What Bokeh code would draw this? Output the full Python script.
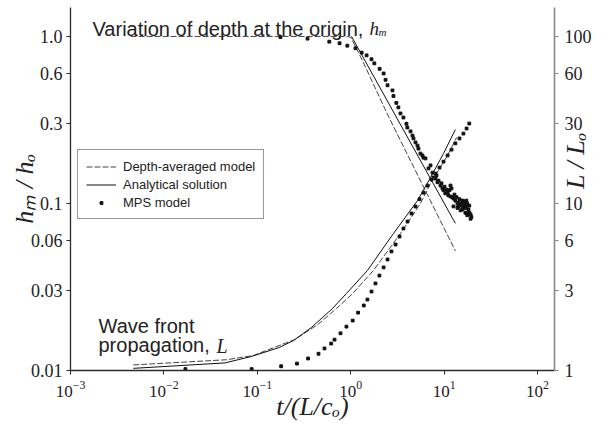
import math
from bokeh.plotting import figure
from bokeh.models import (LogAxis, Range1d, LogScale, FixedTicker, Label,
                          Legend, LegendItem, CustomJSTickFormatter)
from bokeh.embed import file_html
from bokeh.resources import INLINE

# ---------------- data ----------------
# x: t/(L/c_o)
# depth at origin h_m/h_o (left axis)
t_da_h = [0.0044, 0.9, 1.0, 1.33, 2.55, 13.2]
h_da = [1.0, 1.0, 0.99, 0.72, 0.33, 0.052]

t_an_h = [1.02, 13.2]
h_an = [1.0, 0.076]

t_mps_h = [0.177, 0.345, 0.59, 0.76, 0.92, 1.125, 1.31, 1.48, 1.67, 1.79,
           2.04, 2.25, 2.36, 2.48, 2.80, 2.87, 3.08, 3.24, 3.41, 3.67,
           3.95, 4.04, 4.37, 4.59, 4.70, 4.94, 5.19, 5.31, 5.58, 5.86,
           6.0, 6.32, 6.80, 7.15, 7.51, 7.69, 8.08, 8.29, 8.49, 8.71,
           9.15, 9.37, 9.6, 9.85, 10.1, 10.3, 10.6, 10.9, 11.1, 11.4,
           11.7, 11.7, 12.0, 12.3, 12.6, 12.6, 12.9, 13.2, 13.6, 13.9,
           13.9, 14.2, 14.2, 14.6, 15.0, 15.0, 15.3, 15.7, 15.7, 16.1,
           16.1, 16.5, 16.9, 16.9, 17.3, 17.3, 17.7, 17.7, 18.2, 18.2,
           18.6, 18.6, 19.2, 19.2, 19.6]
h_mps = [0.99, 0.97, 0.93, 0.91, 0.88, 0.85, 0.80, 0.77, 0.73, 0.69,
         0.64, 0.60, 0.55, 0.51, 0.475, 0.44, 0.40, 0.376, 0.346, 0.327,
         0.30, 0.285, 0.27, 0.255, 0.245, 0.232, 0.222, 0.213, 0.199, 0.194,
         0.188, 0.186, 0.162, 0.169, 0.153, 0.143, 0.141, 0.147, 0.134, 0.137,
         0.128, 0.132, 0.123, 0.120, 0.126, 0.115, 0.121, 0.116, 0.112, 0.120,
         0.128, 0.110, 0.123, 0.109, 0.107, 0.096, 0.113, 0.104, 0.109, 0.100,
         0.094, 0.101, 0.096, 0.106, 0.097, 0.091, 0.100, 0.104, 0.092, 0.095,
         0.103, 0.099, 0.094, 0.088, 0.096, 0.104, 0.100, 0.085, 0.087, 0.092,
         0.088, 0.097, 0.081, 0.086, 0.083]

# wave front L/L_o (right axis)
t_da_L = [0.0047, 0.047, 0.091, 0.25, 0.442, 0.705, 1.05, 1.75, 3.41,
          5.58, 7.15, 10.9, 13.6]
L_da = [1.08, 1.16, 1.23, 1.53, 1.88, 2.35, 2.89, 3.97, 6.61,
        10.0, 13.2, 19.4, 24.8]

t_an_L = [0.0047, 0.045, 0.085, 0.17, 0.244, 0.38, 0.638, 0.90, 1.51,
          2.87, 5.19, 7.15, 9.85, 13.2]
L_an = [1.03, 1.11, 1.21, 1.37, 1.51, 1.81, 2.35, 2.89, 3.97,
        6.61, 10.4, 14.3, 19.9, 27.7]

t_mps_L = [0.017, 0.087, 0.18, 0.266, 0.35, 0.452, 0.524, 0.618, 0.671,
           0.778, 0.90, 1.05, 1.20, 1.38, 1.51, 1.67, 1.84, 2.03, 2.25,
           2.48, 2.73, 3.02, 3.33, 3.67, 4.06, 4.48, 4.94, 5.45, 6.02,
           6.64, 7.33, 8.09, 8.93, 9.85, 10.9, 12.0, 13.2, 14.6, 16.1,
           17.4, 18.6]
L_mps = [1.02, 1.02, 1.06, 1.10, 1.18, 1.26, 1.355, 1.45, 1.53,
         1.67, 1.83, 1.99, 2.22, 2.45, 2.66, 2.97, 3.32, 3.70, 4.14,
         4.62, 5.16, 5.68, 6.34, 7.08, 7.80, 8.71, 9.59, 10.6, 11.6,
         12.8, 13.9, 15.1, 16.4, 17.8, 19.4, 21.0, 22.9, 24.5, 26.2,
         28.1, 30.1]

x_ticks = [1e-3, 1e-2, 1e-1, 1e0, 1e1, 1e2]
h_ticks = [0.01, 0.03, 0.06, 0.1, 0.3, 0.6, 1.0]
h_tick_labels = ["0.01", "0.03", "0.06", "0.1", "0.3", "0.6", "1.0"]
L_ticks = [1, 3, 6, 10, 30, 60, 100]
L_tick_labels = ["1", "3", "6", "10", "30", "60", "100"]

legend_labels = ["Depth-averaged model", "Analytical solution", "MPS model"]
x_title = "t/(L/cₒ)"
h_title = "hₘ / hₒ"
L_title = "L / Lₒ"

# ---------------- figure ----------------
p = figure(width=608, height=426, x_axis_type="log", y_axis_type="log",
           x_range=Range1d(1e-3, 152), y_range=Range1d(0.01, 1.49),
           output_backend="svg", toolbar_location=None,
           min_border_left=70, min_border_right=54,
           min_border_top=7, min_border_bottom=56)
p.extra_y_ranges = {"L": Range1d(1, 149)}
p.extra_y_scales = {"L": LogScale()}
p.outline_line_color = None
p.xgrid.visible = False
p.ygrid.visible = False
p.background_fill_color = "white"

serif = "Liberation Serif"
sans = "Liberation Sans"

lookup_code = """
for (let i = 0; i < tv.length; i++) {
  if (Math.abs(tv[i] - tick) <= 1e-9 * tv[i]) { return tl[i]; }
}
return "";
"""

# axes
xa = p.xaxis[0]
xa.ticker = FixedTicker(ticks=x_ticks)
ya = p.yaxis[0]
ya.ticker = FixedTicker(ticks=h_ticks)
ya.formatter = CustomJSTickFormatter(args=dict(tv=h_ticks, tl=h_tick_labels),
                                     code=lookup_code)

ra = LogAxis(y_range_name="L", ticker=FixedTicker(ticks=L_ticks))
ra.formatter = CustomJSTickFormatter(args=dict(tv=L_ticks, tl=L_tick_labels),
                                     code=lookup_code)
p.add_layout(ra, "right")

for ax in (xa, ya, ra):
    ax.major_label_text_font = serif
    ax.major_label_text_font_size = "18px"
    ax.major_label_text_color = "#222222"
    ax.major_tick_in = 0
    ax.major_tick_out = 4
    ax.minor_tick_line_color = None
    ax.axis_line_width = 1.3
    ax.axis_label_text_font = serif
    ax.axis_label_text_font_style = "italic"
    ax.axis_label_text_font_size = "26px"
    ax.axis_label_text_color = "#222222"
xa.major_label_text_font_size = "17px"
xa.major_label_standoff = 6
ya.major_label_standoff = 4
ra.major_label_standoff = 6
for ax in (xa, ya):
    ax.axis_line_color = "#2a2a2a"
    ax.major_tick_line_color = "#2a2a2a"
ra.axis_line_color = "#888888"
ra.major_tick_line_color = "#888888"
ra.axis_line_width = 1.6

xa.axis_label = x_title
xa.axis_label_standoff = -8
ya.axis_label = h_title
ya.axis_label_standoff = -11
ra.axis_label = L_title
ra.axis_label_standoff = -19
ra.axis_label_orientation = math.pi / 2

# ---------------- series ----------------
dash = "6 2"
r_da_h = p.line(t_da_h, h_da, line_color="#444444", line_width=1, line_dash=dash)
r_an_h = p.line(t_an_h, h_an, line_color="#111111", line_width=1)
r_mps_h = p.scatter(t_mps_h, h_mps, marker="square", size=2.8, color="#111111")

p.line(t_da_L, L_da, line_color="#444444", line_width=1, line_dash=dash, y_range_name="L")
p.line(t_an_L, L_an, line_color="#111111", line_width=1, y_range_name="L")
p.scatter(t_mps_L, L_mps, marker="square", size=2.8, color="#111111", y_range_name="L")

legend = Legend(items=[LegendItem(label=legend_labels[0], renderers=[r_da_h]),
                       LegendItem(label=legend_labels[1], renderers=[r_an_h]),
                       LegendItem(label=legend_labels[2], renderers=[r_mps_h])],
                location=(7, 151))
legend.border_line_color = "#333333"
legend.border_line_width = 1
legend.background_fill_alpha = 1
legend.padding = 8
legend.spacing = 2
legend.margin = 0
legend.glyph_width = 30
legend.glyph_height = 7
legend.label_height = 16
legend.label_standoff = 7
legend.label_text_font = sans
legend.label_text_font_size = "13px"
legend.label_text_color = "#222222"
p.add_layout(legend)

# ---------------- text annotations inside the frame (screen units) ----------------
def lab(text, x, y, font, size, style="normal"):
    p.add_layout(Label(text=text, x=x, y=y, x_units="screen", y_units="screen",
                       text_font=font, text_font_size=size, text_font_style=style,
                       text_color="#222222", text_align="left",
                       text_baseline="alphabetic"))

lab("Variation of depth at the origin,", 22, 342, sans, "20px")
lab("h", 299, 342, serif, "19px", "italic")
lab("m", 308, 339, serif, "11px", "italic")

lab("Wave front", 28, 45, sans, "20px")
lab("propagation,", 28, 26, sans, "20px")
lab("L", 146, 25, serif, "20px", "italic")

open("out.html", "w").write(file_html(p, INLINE))
